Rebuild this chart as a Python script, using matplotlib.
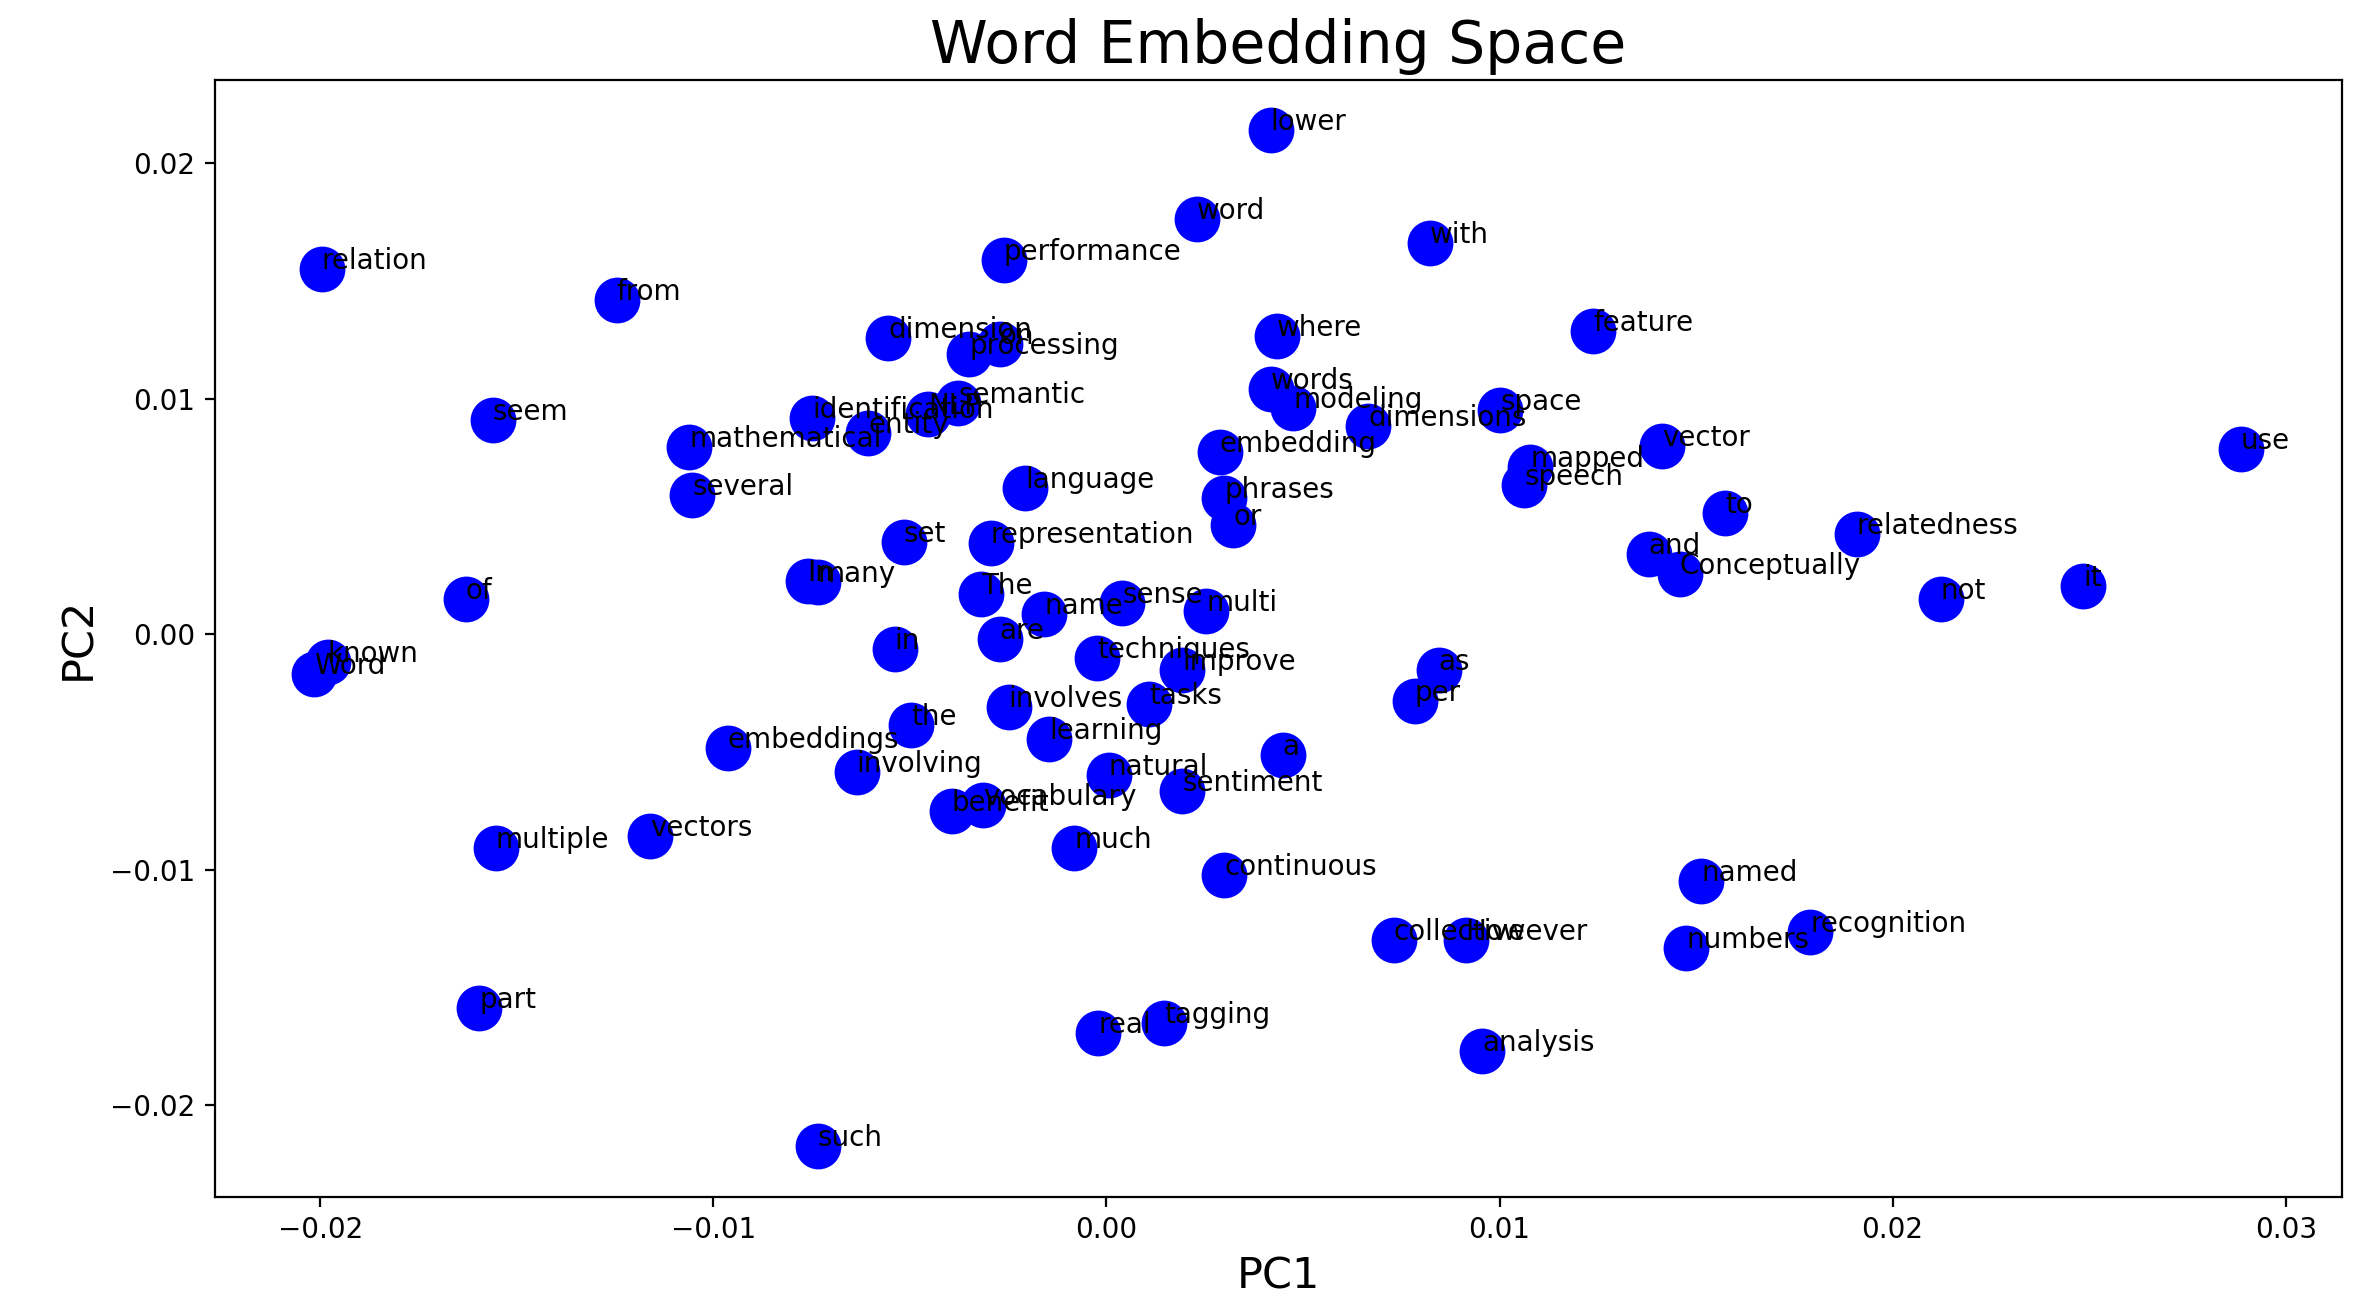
import numpy as np
import matplotlib
matplotlib.use("Agg")
import matplotlib.pyplot as plt

# words and their 2-D PCA coordinates
words = ['lower', 'word', 'with', 'performance', 'relation', 'from',
         'dimension', 'processing', 'on', 'where', 'feature', 'words',
         'modeling', 'dimensions', 'space', 'semantic', 'identification',
         'entity', 'NLP', 'language', 'embedding', 'phrases', 'or',
         'mapped', 'speech', 'vector', 'use', 'to', 'relatedness', 'and',
         'Conceptually', 'not', 'it', 'seem', 'mathematical', 'several',
         'set', 'representation', 'In', 'many', 'of', 'Word', 'known',
         'The', 'name', 'sense', 'multi', 'in', 'are', 'techniques',
         'improve', 'as', 'per', 'involves', 'tasks', 'the', 'learning',
         'a', 'embeddings', 'involving', 'natural', 'sentiment', 'benefit',
         'vocabulary', 'much', 'continuous', 'multiple', 'vectors', 'named',
         'recognition', 'numbers', 'collective', 'However', 'real',
         'tagging', 'analysis', 'part', 'such']

pc1 = [0.00418, 0.00231, 0.00822, -0.00261, -0.01996, -0.01246,
       -0.00555, -0.00349, -0.00272, 0.00433, 0.01238, 0.00418,
       0.00475, 0.00666, 0.01002, -0.00377, -0.00749,
       -0.00606, -0.00453, -0.00207, 0.00288, 0.00300, 0.00323,
       0.01078, 0.01063, 0.01413, 0.02886, 0.01573, 0.01909, 0.01379,
       0.01459, 0.02123, 0.02485, -0.01561, -0.01062, -0.01054,
       -0.00516, -0.00295, -0.00760, -0.00734, -0.01630, -0.02015, -0.01981,
       -0.00318, -0.00158, 0.00040, 0.00254, -0.00539, -0.00272, -0.00024,
       0.00193, 0.00845, 0.00784, -0.00249, 0.00109, -0.00497, -0.00146,
       0.00448, -0.00963, -0.00635, 0.00006, 0.00193, -0.00394,
       -0.00314, -0.00082, 0.00300, -0.01554, -0.01161, 0.01513,
       0.01791, 0.01475, 0.00731, 0.00914, -0.00021,
       0.00147, 0.00956, -0.01596, -0.00734]

pc2 = [0.02140, 0.01764, 0.01662, 0.01591, 0.01553, 0.01420,
       0.01259, 0.01188, 0.01231, 0.01266, 0.01286, 0.01043,
       0.00960, 0.00884, 0.00954, 0.00984, 0.00920,
       0.00856, 0.00934, 0.00622, 0.00775, 0.00577, 0.00463,
       0.00711, 0.00635, 0.00801, 0.00788, 0.00514, 0.00424, 0.00341,
       0.00258, 0.00150, 0.00207, 0.00909, 0.00794, 0.00590,
       0.00392, 0.00386, 0.00227, 0.00220, 0.00149, -0.00169, -0.00118,
       0.00169, 0.00086, 0.00131, 0.00099, -0.00061, -0.00022, -0.00099,
       -0.00150, -0.00150, -0.00284, -0.00309, -0.00297, -0.00386, -0.00443,
       -0.00514, -0.00482, -0.00584, -0.00596, -0.00667, -0.00750,
       -0.00724, -0.00909, -0.01021, -0.00909, -0.00858, -0.01049,
       -0.01266, -0.01330, -0.01298, -0.01298, -0.01694,
       -0.01649, -0.01770, -0.01585, -0.02172]

plt.figure(figsize=(11.785, 6.495), dpi=200)
plt.subplots_adjust(left=0.0912, right=0.9936, bottom=0.0789, top=0.9387)
plt.scatter(pc1, pc2, s=240, color='blue')
for w, x, y in zip(words, pc1, pc2):
    plt.annotate(w, (x, y), fontsize=10)
plt.xlim(-0.02268, 0.03143)
plt.ylim(-0.02387, 0.02355)
plt.title('Word Embedding Space', fontsize=21)
plt.xlabel('PC1', fontsize=15.5)
plt.ylabel('PC2', fontsize=15.5)
plt.savefig('out.png', dpi=200)
